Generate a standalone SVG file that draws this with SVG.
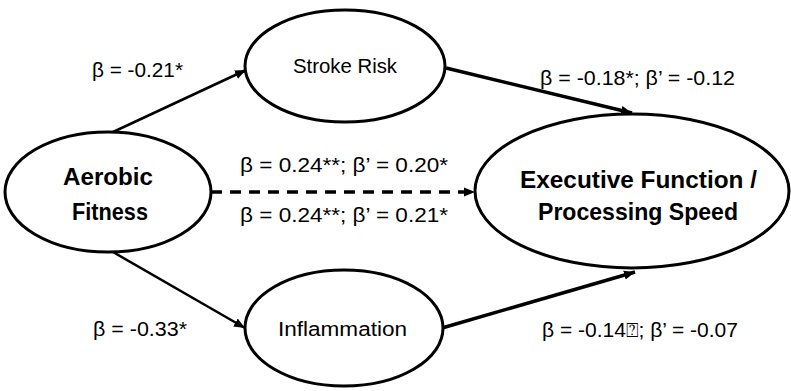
<svg xmlns="http://www.w3.org/2000/svg" width="791" height="391" viewBox="0 0 791 391">
<style>
.node{fill:#fff;stroke:#000;stroke-width:3}
.t{font-family:"Liberation Sans","DejaVu Sans",sans-serif;font-size:20px;fill:#000}
.b{font-family:"Liberation Sans","DejaVu Sans",sans-serif;font-size:24px;font-weight:bold;fill:#000}
.thin{stroke:#000;stroke-width:2.5;fill:none}
.thick{stroke:#000;stroke-width:3.5;fill:none}
</style>
<defs>
<marker id="ah" markerUnits="userSpaceOnUse" markerWidth="12" markerHeight="10" refX="11" refY="5" orient="auto">
<path d="M0,0.5 L11,5 L0,9.5 Z" fill="#000"/>
</marker>
</defs>
<rect width="791" height="391" fill="#fff"/>
<g id="connectors">
<line class="thin" x1="113" y1="132" x2="246" y2="70" marker-end="url(#ah)"/>
<line class="thin" x1="113" y1="252" x2="245" y2="328" marker-end="url(#ah)"/>
<line class="thick" x1="446" y1="68" x2="632" y2="113" marker-end="url(#ah)"/>
<line class="thick" x1="442" y1="328" x2="635" y2="272" marker-end="url(#ah)"/>
<line class="thick" x1="211" y1="192" x2="475" y2="192" stroke-dasharray="11,8" marker-end="url(#ah)"/>
</g>
<g id="aerobic">
<ellipse class="node" cx="108" cy="192" rx="103" ry="60"/>
<text class="b" x="108" y="185" text-anchor="middle" textLength="90" lengthAdjust="spacingAndGlyphs">Aerobic</text>
<text class="b" x="110" y="220" text-anchor="middle" textLength="76" lengthAdjust="spacingAndGlyphs">Fitness</text>
</g>
<g id="stroke">
<ellipse class="node" cx="345" cy="66" rx="100" ry="56"/>
<text class="t" x="293" y="73" textLength="104" lengthAdjust="spacingAndGlyphs">Stroke Risk</text>
</g>
<g id="inflammation">
<ellipse class="node" cx="344" cy="328" rx="99" ry="58"/>
<text class="t" x="278" y="336" textLength="129" lengthAdjust="spacingAndGlyphs">Inflammation</text>
</g>
<g id="executive">
<ellipse class="node" cx="632" cy="191" rx="157" ry="77"/>
<text class="b" x="520" y="188" textLength="237" lengthAdjust="spacingAndGlyphs">Executive Function /</text>
<text class="b" x="538" y="220" textLength="200" lengthAdjust="spacingAndGlyphs">Processing Speed</text>
</g>
<g id="labels">
<text class="t" x="92" y="77" textLength="91" lengthAdjust="spacingAndGlyphs">β = -0.21*</text>
<text class="t" x="93" y="336" textLength="94" lengthAdjust="spacingAndGlyphs">β = -0.33*</text>
<text class="t" x="240" y="172" textLength="208" lengthAdjust="spacingAndGlyphs">β = 0.24**; β’ = 0.20*</text>
<text class="t" x="240" y="222" textLength="208" lengthAdjust="spacingAndGlyphs">β = 0.24**; β’ = 0.21*</text>
<text class="t" x="540" y="85" textLength="195" lengthAdjust="spacingAndGlyphs">β = -0.18*; β’ = -0.12</text>
<text class="t" x="542" y="337" textLength="196" lengthAdjust="spacingAndGlyphs">β = -0.14⍰; β’ = -0.07</text>
</g>
</svg>
